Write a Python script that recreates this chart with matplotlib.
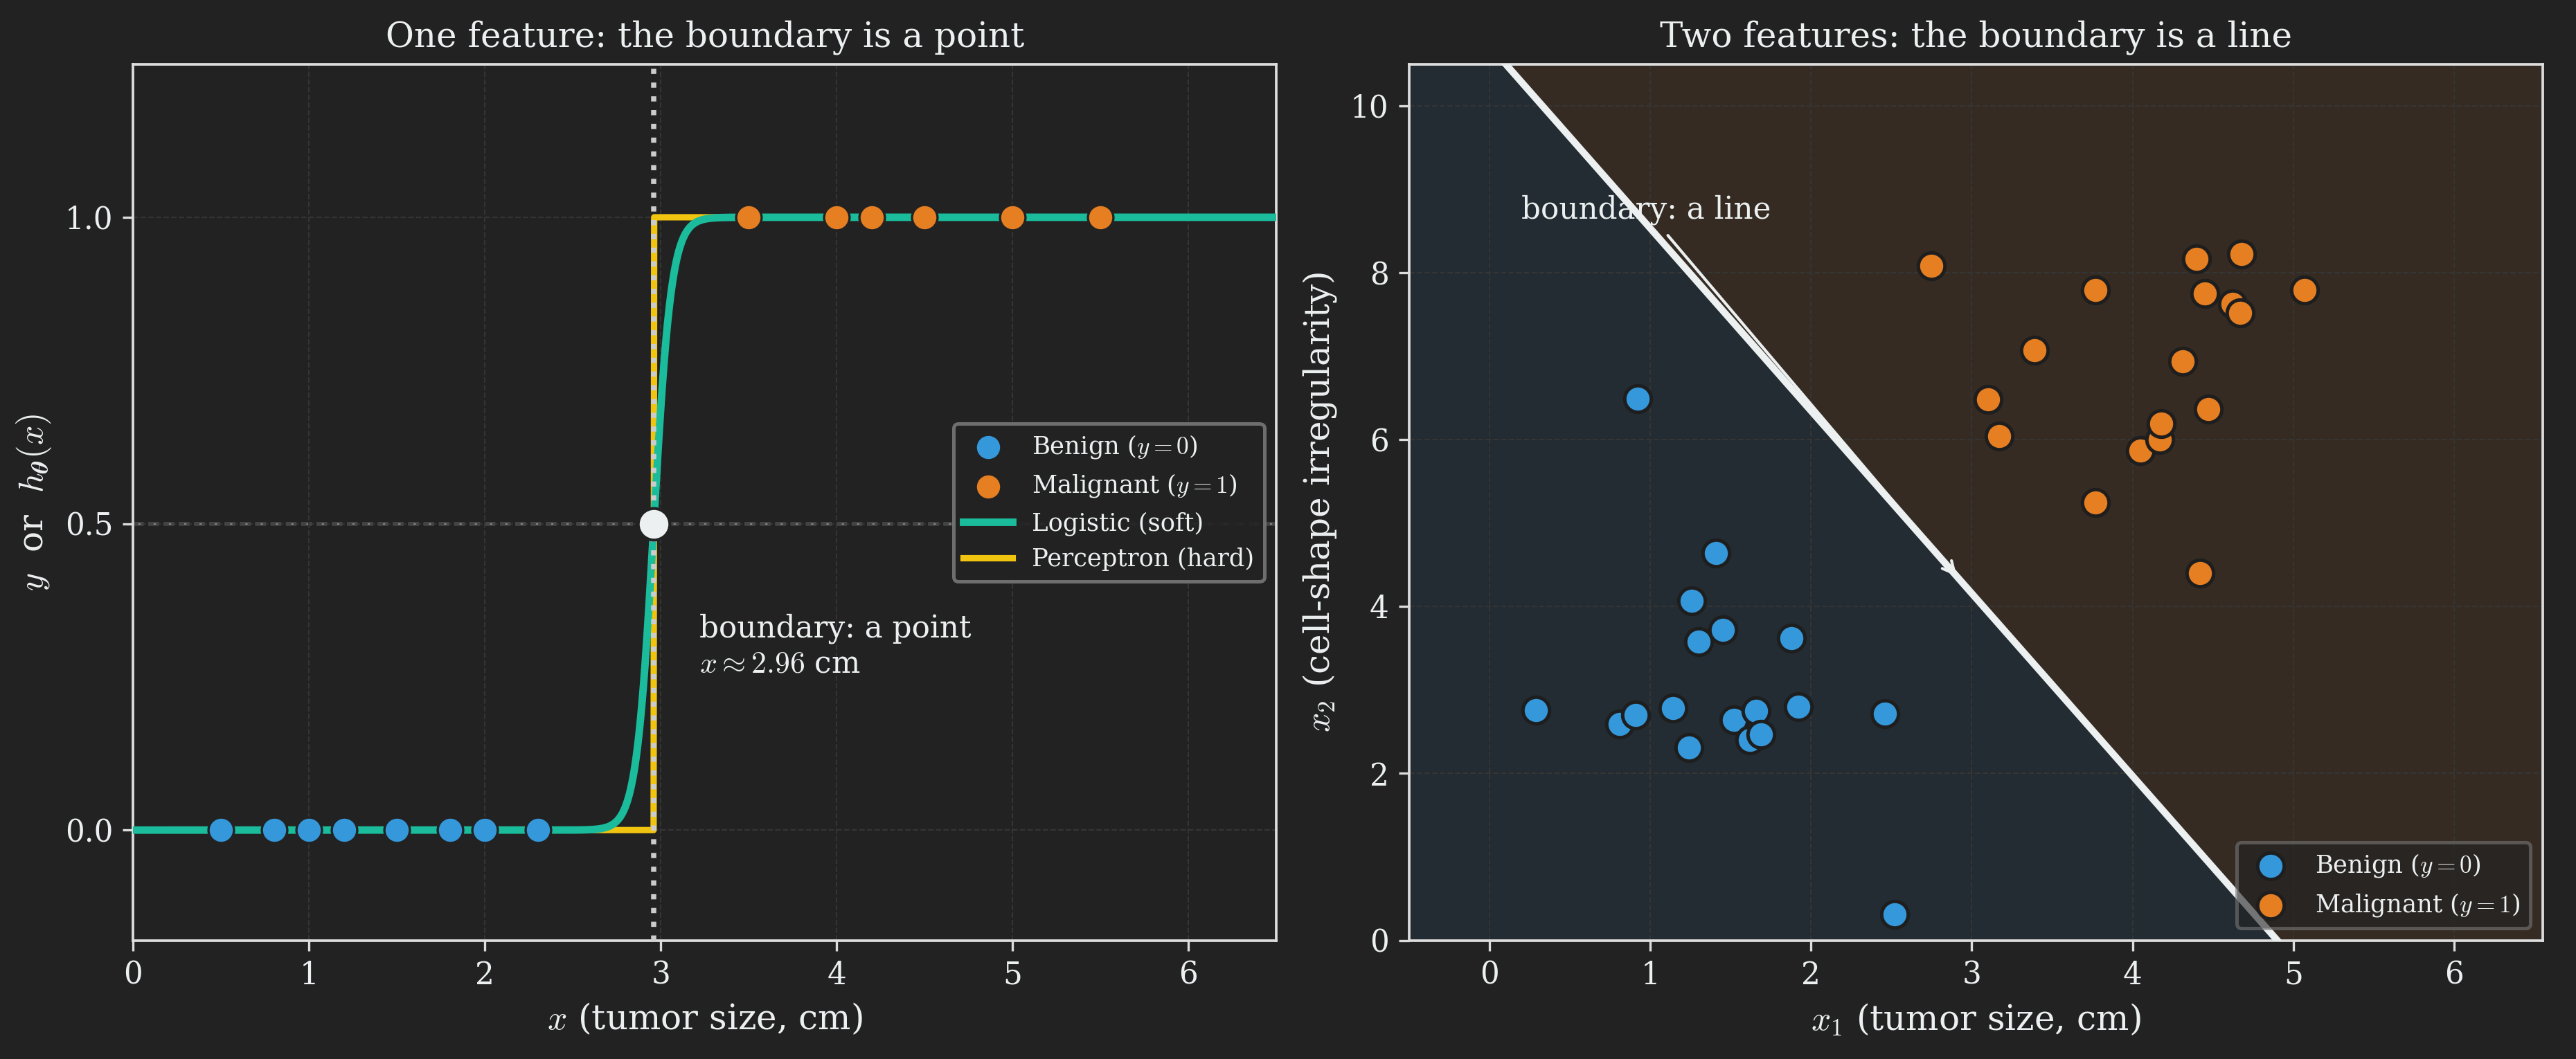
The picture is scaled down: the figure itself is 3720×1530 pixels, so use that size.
import numpy as np
import matplotlib
matplotlib.use("Agg")
import matplotlib.pyplot as plt

# colours
BG = "#222222"
FG = "#ecf0f1"
BLUE = "#3498db"
ORANGE = "#e67e22"
TEAL = "#1abc9c"
YELLOW = "#f1c40f"

# left panel data (one feature)
benign_x = [0.5, 0.8, 1.0, 1.2, 1.5, 1.8, 2.0, 2.3]
malig_x = [3.5, 4.0, 4.2, 4.5, 5.0, 5.5]
boundary_1d = 2.96
steepness = 20.0

# right panel data (two features)
benign_x1 = [0.29, 0.81, 0.91, 0.92, 1.14, 1.24, 1.26, 1.30, 1.41, 1.45,
             1.52, 1.62, 1.66, 1.69, 1.88, 1.92, 2.46, 2.52]
benign_x2 = [2.76, 2.59, 2.70, 6.49, 2.78, 2.31, 4.07, 3.58, 4.64, 3.72,
             2.64, 2.40, 2.75, 2.47, 3.62, 2.80, 2.72, 0.31]
malig_x1 = [2.75, 3.10, 3.17, 3.39, 3.77, 3.77, 4.05, 4.17, 4.18, 4.31,
            4.40, 4.42, 4.45, 4.47, 4.62, 4.67, 4.68, 5.07]
malig_x2 = [8.08, 6.48, 6.04, 7.07, 7.79, 5.25, 5.87, 6.00, 6.19, 6.94,
            8.17, 4.40, 7.75, 6.37, 7.63, 7.52, 8.22, 7.79]
# theta0 + theta1*x1 + theta2*x2 = 0
theta = [-10.72, 2.1875, 1.0]

plt.rcParams.update({
    "font.family": "DejaVu Serif",
    "mathtext.fontset": "cm",
    "figure.facecolor": BG,
    "axes.facecolor": BG,
    "savefig.facecolor": BG,
    "axes.edgecolor": "#dddddd",
    "axes.labelcolor": FG,
    "text.color": FG,
    "xtick.color": "#dddddd",
    "ytick.color": "#dddddd",
    "xtick.labelcolor": FG,
    "ytick.labelcolor": FG,
    "axes.linewidth": 0.9,
})

fig, (ax1, ax2) = plt.subplots(1, 2, figsize=(12.4, 5.1), dpi=300)
ax1.set_position([0.0517, 0.112, 0.4438, 0.8275])
ax2.set_position([0.547, 0.112, 0.440, 0.8275])

# ---- left panel ----
xs = np.linspace(0, 6.5, 2000)
h = 1 / (1 + np.exp(-steepness * (xs - boundary_1d)))
step = (xs >= boundary_1d).astype(float)

ax1.grid(True, color="#353535", ls="--", lw=0.5)
ax1.axhline(0.5, color="#777777", ls="--", lw=1.0, zorder=1)
ax1.plot(xs, step, color=YELLOW, lw=2.2, zorder=2, label="Perceptron (hard)")
ax1.plot(xs, h, color=TEAL, lw=2.6, zorder=3, label="Logistic (soft)")
ax1.axvline(boundary_1d, color="#cccccc", ls=":", lw=1.8, zorder=4)
ax1.scatter(benign_x, np.zeros(len(benign_x)), s=78, color=BLUE,
            edgecolor=BG, lw=0.8, zorder=5, label=r"Benign ($y=0$)")
ax1.scatter(malig_x, np.ones(len(malig_x)), s=78, color=ORANGE,
            edgecolor=BG, lw=0.8, zorder=5, label=r"Malignant ($y=1$)")
ax1.scatter([boundary_1d], [0.5], s=120, color=FG, edgecolor=BG, lw=1.0, zorder=6)
ax1.text(3.22, 0.30, "boundary: a point\n" + r"$x \approx 2.96$ cm",
         fontsize=10.5, va="center", ha="left")

ax1.set_xlim(0, 6.5)
ax1.set_ylim(-0.18, 1.25)
ax1.set_yticks([0.0, 0.5, 1.0])
ax1.set_xticks(range(7))
ax1.tick_params(labelsize=10.5)
ax1.set_xlabel(r"$x$ (tumor size, cm)", fontsize=12)
ax1.set_ylabel(r"$y$  or  $h_{\boldsymbol{\theta}}(x)$", fontsize=12)
ax1.set_title("One feature: the boundary is a point", fontsize=12)
handles, labels = ax1.get_legend_handles_labels()
order = [2, 3, 1, 0]
leg = ax1.legend([handles[i] for i in order], [labels[i] for i in order],
                 loc="center right", fontsize=8.5, facecolor=BG,
                 edgecolor="#777777", framealpha=0.9, labelcolor=FG)
leg.get_frame().set_linewidth(1.2)

# ---- right panel ----
xlo, xhi, ylo, yhi = -0.5, 6.55, 0, 10.5
gx = np.linspace(xlo, xhi, 500)
line = -(theta[0] + theta[1] * gx) / theta[2]
ax2.fill_between(gx, ylo, np.clip(line, ylo, yhi), color=BLUE, alpha=0.09, lw=0, zorder=0)
ax2.fill_between(gx, np.clip(line, ylo, yhi), yhi, color=ORANGE, alpha=0.1, lw=0, zorder=0)
ax2.grid(True, color="#353535", ls="--", lw=0.5)
ax2.plot(gx, line, color=FG, lw=2.4, zorder=3)
ax2.scatter(benign_x1, benign_x2, s=85, color=BLUE, edgecolor="#1e1e1e",
            lw=1.2, zorder=5, label=r"Benign ($y=0$)")
ax2.scatter(malig_x1, malig_x2, s=85, color=ORANGE, edgecolor="#1e1e1e",
            lw=1.2, zorder=5, label=r"Malignant ($y=1$)")
tip_x = 2.93
tip_y = -(theta[0] + theta[1] * tip_x) / theta[2]
ax2.annotate("boundary: a line", xy=(tip_x, tip_y), xytext=(0.2, 8.75),
             fontsize=10.5, va="center", ha="left", color=FG,
             arrowprops=dict(arrowstyle="->", color=FG, lw=1.0), zorder=6)

ax2.set_xlim(xlo, xhi)
ax2.set_ylim(ylo, yhi)
ax2.set_xticks(range(7))
ax2.set_yticks(range(0, 11, 2))
ax2.tick_params(labelsize=10.5)
ax2.set_xlabel(r"$x_1$ (tumor size, cm)", fontsize=12)
ax2.set_ylabel(r"$x_2$ (cell-shape irregularity)", fontsize=12)
ax2.set_title("Two features: the boundary is a line", fontsize=12)
leg2 = ax2.legend(loc="lower right", fontsize=8.5, facecolor=BG,
                  edgecolor="#777777", framealpha=0.6, labelcolor=FG)
leg2.get_frame().set_linewidth(1.2)

fig.savefig("out.png", dpi=300)
